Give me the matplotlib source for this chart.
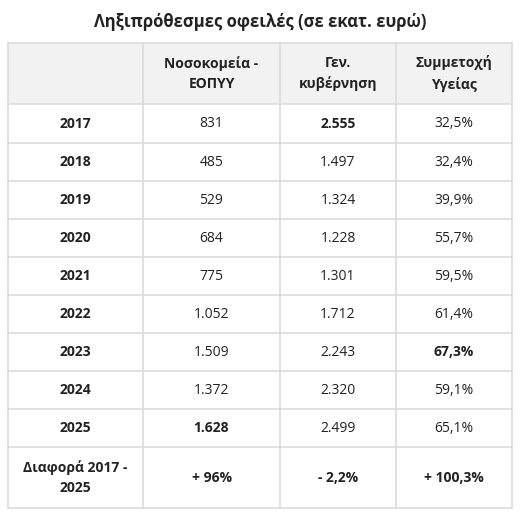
import matplotlib
matplotlib.use("Agg")
import matplotlib.pyplot as plt
from matplotlib.patches import Rectangle

title = "Ληξιπρόθεσμες οφειλές (σε εκατ. ευρώ)"
headers = ["", "Νοσοκομεία -\nΕΟΠΥΥ", "Γεν.\nκυβέρνηση", "Συμμετοχή\nΥγείας"]
years = ["2017", "2018", "2019", "2020", "2021", "2022", "2023", "2024", "2025", "Διαφορά 2017 -\n2025"]
hospitals = ["831", "485", "529", "684", "775", "1.052", "1.509", "1.372", "1.628", "+ 96%"]
government = ["2.555", "1.497", "1.324", "1.228", "1.301", "1.712", "2.243", "2.320", "2.499", "- 2,2%"]
health_share = ["32,5%", "32,4%", "39,9%", "55,7%", "59,5%", "61,4%", "67,3%", "59,1%", "65,1%", "+ 100,3%"]
bold_cells = {(0, 2), (6, 3), (8, 1)}

plt.rcParams['font.family'] = ['Open Sans', 'DejaVu Sans']
W, H = 521, 519
fig = plt.figure(figsize=(W/100, H/100), dpi=100)
ax = fig.add_axes([0, 0, 1, 1])
ax.set_xlim(0, W); ax.set_ylim(H, 0); ax.axis("off")

xs = [8, 143, 280, 396, 512]
ys = [43, 104, 143, 181, 219, 257, 295, 333, 371, 409, 447, 508]
lc = "#dcdcdc"; tc = "#222222"
ax.text(W/2, 22, title, ha="center", va="center", fontsize=12, fontweight="bold", color=tc)
ax.add_patch(Rectangle((xs[0], ys[0]), xs[-1]-xs[0], ys[1]-ys[0], color="#f2f2f2", lw=0))
for x in xs:
    ax.plot([x, x], [ys[0], ys[-1]], color=lc, lw=1.2)
for y in ys:
    ax.plot([xs[0], xs[-1]], [y, y], color=lc, lw=1.2)

def cx(i): return (xs[i]+xs[i+1])/2
def cy(j): return (ys[j]+ys[j+1])/2

for i, h in enumerate(headers):
    ax.text(cx(i), cy(0), h, ha="center", va="center", fontsize=10, fontweight="bold", color=tc, linespacing=1.6)
cols = [years, hospitals, government, health_share]
for r in range(len(years)):
    for c in range(4):
        bold = c == 0 or r == len(years)-1 or (r, c) in bold_cells
        ax.text(cx(c), cy(r+1), cols[c][r], ha="center", va="center", fontsize=10,
                fontweight="bold" if bold else "normal", color=tc, linespacing=1.6)
fig.savefig("out.png", dpi=100)
